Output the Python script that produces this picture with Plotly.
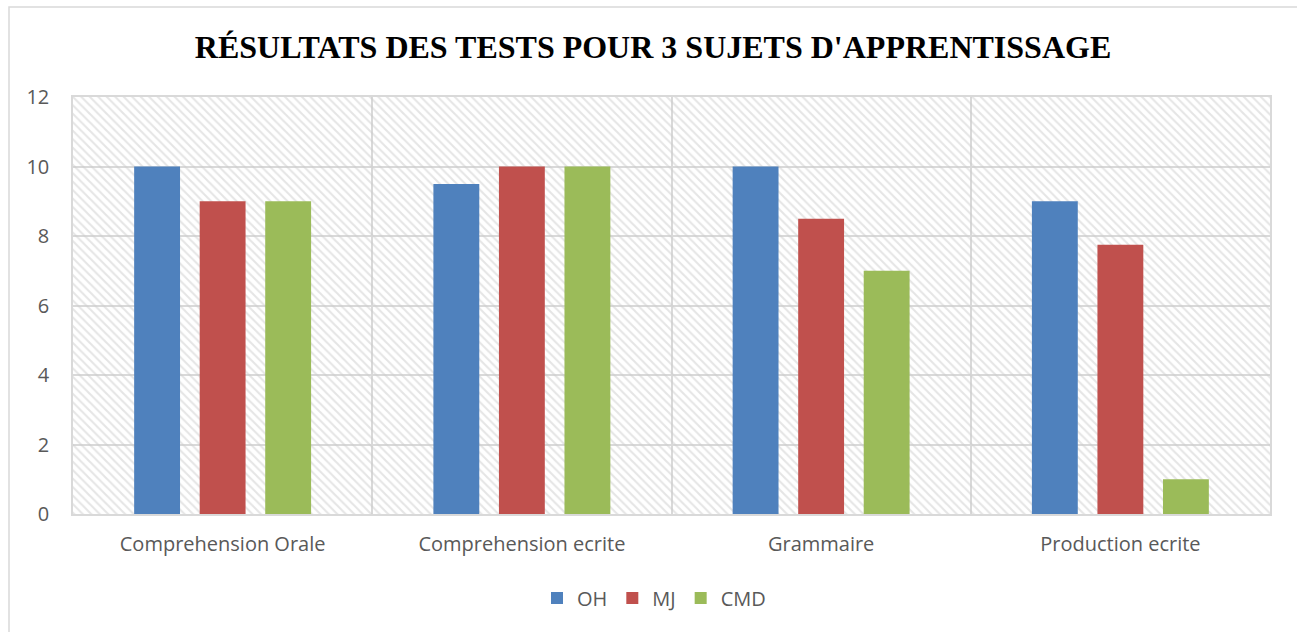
import plotly.graph_objects as go

categories = ["Comprehension Orale", "Comprehension ecrite", "Grammaire", "Production ecrite"]
series_names = ["OH", "MJ", "CMD"]
oh_values = [10, 9.5, 10, 9]
mj_values = [9, 10, 8.5, 7.75]
cmd_values = [9, 10, 7, 1]
colors = ["#4F81BD", "#C0504D", "#9BBB59"]
y_ticks = [0, 2, 4, 6, 8, 10, 12]
title_text = "RÉSULTATS DES TESTS POUR 3 SUJETS D'APPRENTISSAGE"

W, H = 1297, 632
L, R, T, B = 73, 1270, 97, 514

fig = go.Figure()

# hatched plot-area background on the base (hidden) axes, so bars on the overlay axes sit above it
fig.add_trace(go.Scatter(
    x=[0, 1, 1, 0, 0], y=[0, 0, 1, 1, 0], xaxis="x", yaxis="y",
    mode="none", fill="toself", fillcolor="rgba(0,0,0,0)",
    fillpattern=dict(shape="\\", fgcolor="#cccccc", bgcolor="rgba(0,0,0,0)", size=6, solidity=0.35),
    hoverinfo="skip", showlegend=False,
))

for name, vals, col in zip(series_names, [oh_values, mj_values, cmd_values], colors):
    fig.add_trace(go.Bar(x=categories, y=vals, name=name, xaxis="x2", yaxis="y2",
                         marker=dict(color=col, line=dict(width=0))))

fig.update_layout(
    width=W, height=H,
    margin=dict(l=L, r=W - R, t=T, b=H - B),
    paper_bgcolor="white", plot_bgcolor="white",
    barmode="group", bargap=0.343, bargroupgap=0.30,
    title=dict(text="<b>" + title_text + "</b>", x=653 / W, xref="container", xanchor="center",
               y=1 - 47 / H, yref="container", yanchor="middle",
               font=dict(family="Liberation Serif", size=32, color="black")),
    font=dict(family="Open Sans", color="#595959"),
    xaxis=dict(range=[0, 1], visible=False, fixedrange=True),
    yaxis=dict(range=[0, 1], visible=False, fixedrange=True),
    xaxis2=dict(overlaying="x", showgrid=True, gridcolor="#d9d9d9", gridwidth=1.5, tickson="boundaries",
                ticks="", ticklabelstandoff=11, tickfont=dict(size=20, color="#595959"),
                showline=True, linecolor="#d9d9d9", linewidth=2, mirror=True, zeroline=False),
    yaxis2=dict(overlaying="y", side="left", range=[0, 12], tickvals=y_ticks, showgrid=True,
                gridcolor="#d9d9d9", gridwidth=2,
                ticks="", ticklabelstandoff=18, tickfont=dict(size=20, color="#595959"),
                showline=True, linecolor="#d9d9d9", linewidth=1.5, mirror=True, zeroline=False),
    legend=dict(orientation="h", x=(654 - L) / (R - L), xanchor="center",
                y=(B - 598) / (B - T), yanchor="middle",
                font=dict(size=20, color="#595959"), itemwidth=30, traceorder="normal"),
    shapes=[dict(type="rect", xref="paper", yref="paper",
                 x0=(9 - L) / (R - L), x1=(1320 - L) / (R - L),
                 y0=(B - 660) / (B - T), y1=(B - 7) / (B - T),
                 line=dict(color="#d9d9d9", width=1.5), fillcolor="rgba(0,0,0,0)", layer="below")],
)

fig.write_html("out.html", config={"displayModeBar": False},
               post_script="document.body.style.margin='0px';document.body.style.padding='0px';")
